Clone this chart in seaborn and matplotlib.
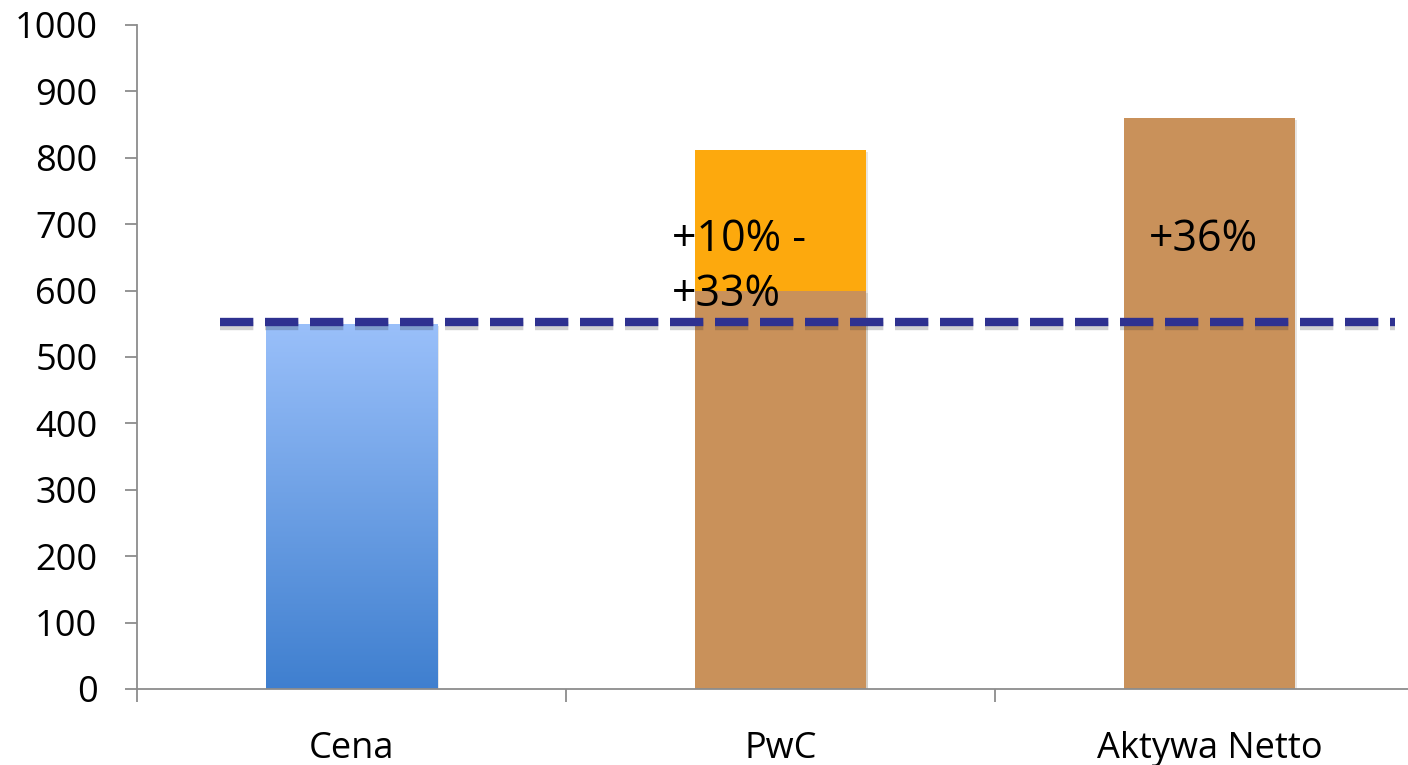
import matplotlib.pyplot as plt
import matplotlib.patheffects as pe
from matplotlib.colors import LinearSegmentedColormap
import seaborn as sns
import numpy as np
import pandas as pd

categories = ["Cena", "PwC", "Aktywa Netto"]
base_values = [550, 600, 860]
range_top = [0, 812, 0]          # gorna granica wyceny PwC
reference_level = 553            # linia przerywana (cena)
labels = ["", "+10% -\n+33%", "+36%"]
yticks = list(range(0, 1001, 100))

sns.set_theme(style="white")
plt.rcParams['font.family'] = ['Open Sans', 'DejaVu Sans']
plt.rcParams['text.color'] = 'black'

df = pd.DataFrame({"kat": categories, "baza": base_values, "gora": range_top})

fig = plt.figure(figsize=(14.08, 7.65), dpi=100)
ax = fig.add_axes([137 / 1408, 76 / 765, 1287 / 1408, 664 / 765])

shadow = [pe.SimplePatchShadow(offset=(1.5, -1.5), alpha=0.12), pe.Normal()]

sns.barplot(data=df, x="kat", y="gora", color="#FDA90D", width=0.4,
            saturation=1, ax=ax)
sns.barplot(data=df, x="kat", y="baza", hue="kat",
            palette=["#9AC0FA", "#C9915A", "#C9915A"], width=0.4,
            saturation=1, legend=False, ax=ax)
for p in ax.patches:
    p.set_path_effects(shadow)
    p.set_linewidth(0)

# gradient na slupku "Cena"
cena_bar = ax.patches[len(categories)]
x0, w, h = cena_bar.get_x(), cena_bar.get_width(), cena_bar.get_height()
grad = np.linspace(0, 1, 256).reshape(-1, 1)
cmap = LinearSegmentedColormap.from_list("g", ["#3F7FCF", "#9AC0FA"])
im = ax.imshow(grad, extent=[x0, x0 + w, 0, h], origin="lower", cmap=cmap,
               aspect="auto", zorder=cena_bar.get_zorder() + 0.1)
im.set_clip_path(cena_bar)

ax.set_xlim(-0.5, 2.5)
ax.set_ylim(0, 1000)

ax.plot([-0.307, 2.432], [reference_level] * 2, color="#2E3190", lw=6,
        dashes=(4, 1.4), solid_capstyle="butt", zorder=5,
        path_effects=[pe.SimpleLineShadow(offset=(0, -3), alpha=0.2), pe.Normal()])

# etykiety
line1, line2 = labels[1].split("\n")
ax.text(0.747, 676, line1, fontsize=31, ha="left", va="center", color="black", zorder=6)
ax.text(0.747, 593, line2, fontsize=31, ha="left", va="center", color="black", zorder=6)
ax.text(1.985, 676, labels[2], fontsize=31, ha="center", va="center", color="black", zorder=6)

sns.despine(ax=ax)
for s in ["left", "bottom"]:
    ax.spines[s].set_color("#8C8C8C")
    ax.spines[s].set_linewidth(1.3)

ax.set_yticks(yticks)
ax.tick_params(axis="y", left=True, direction="out", length=8.5, width=1.3,
               color="#8C8C8C", labelsize=26, pad=20, labelcolor="black")
ax.set_xticks(range(len(categories)))
ax.set_xticklabels(categories)
ax.set_xticks([-0.5, 0.5, 1.5, 2.5], minor=True)
ax.tick_params(axis="x", which="major", bottom=False, labelsize=26, pad=24,
               labelcolor="black")
ax.tick_params(axis="x", which="minor", bottom=True, direction="out", length=9,
               width=1.3, color="#8C8C8C")
ax.set_xlabel("")
ax.set_ylabel("")

fig.savefig("out.png", dpi=100)
